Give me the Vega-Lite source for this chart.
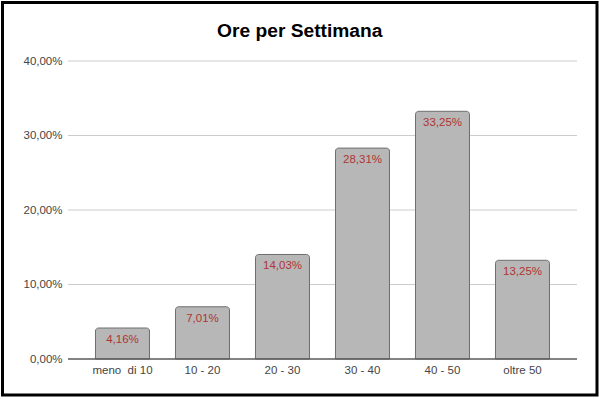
{
  "$schema": "https://vega.github.io/schema/vega-lite/v6.json",
  "width": 594.5,
  "height": 392.5,
  "autosize": {"type": "none"},
  "padding": {"left": 2.5, "top": 2.5, "right": 2, "bottom": 4},
  "background": "white",
  "config": {
    "locale": {"number": {"decimal": ",", "thousands": ".", "grouping": [3], "currency": ["€", ""]}},
    "view": {"stroke": "black", "strokeWidth": 3},
    "font": "Liberation Sans"
  },
  "title": {
    "text": "Ore per Settimana",
    "font": "Liberation Sans",
    "fontSize": 19.2,
    "fontWeight": "bold",
    "color": "#000000",
    "anchor": "middle",
    "offset": -39
  },
  "datasets": {
    "bars": [
      {"fascia": "meno  di 10", "quota": 0.0416},
      {"fascia": "10 - 20", "quota": 0.0701},
      {"fascia": "20 - 30", "quota": 0.1403},
      {"fascia": "30 - 40", "quota": 0.2831},
      {"fascia": "40 - 50", "quota": 0.3325},
      {"fascia": "oltre 50", "quota": 0.1325}
    ],
    "grid": [
      {"livello": 0.1},
      {"livello": 0.2},
      {"livello": 0.3},
      {"livello": 0.4}
    ],
    "base": [
      {"livello": 0}
    ]
  },
  "encoding": {
    "x": {
      "field": "fascia",
      "type": "nominal",
      "sort": null,
      "scale": {
        "domain": ["meno  di 10", "10 - 20", "20 - 30", "30 - 40", "40 - 50", "oltre 50"],
        "paddingInner": 0.325,
        "paddingOuter": 0.878125,
        "align": 0.6619
      },
      "axis": {
        "title": null,
        "orient": "bottom",
        "offset": -36,
        "domain": false,
        "ticks": false,
        "labelAngle": 0,
        "labelPadding": 5,
        "labelFont": "Liberation Sans",
        "labelFontSize": 11.5,
        "labelColor": "#444444",
        "labelExpr": "datum.value == 'meno  di 10' ? 'meno\u00a0 di 10' : datum.label"
      }
    },
    "y": {
      "type": "quantitative",
      "scale": {"domain": [-0.04832, 0.47853], "nice": false, "zero": false},
      "axis": {
        "title": null,
        "orient": "left",
        "offset": -65.5,
        "values": [0, 0.1, 0.2, 0.3, 0.4],
        "format": ".2%",
        "domain": false,
        "ticks": false,
        "grid": false,
        "labelPadding": 6,
        "labelFont": "Liberation Sans",
        "labelFontSize": 11.5,
        "labelColor": "#444444"
      }
    }
  },
  "layer": [
    {
      "data": {"name": "grid"},
      "mark": {"type": "rule", "color": "#cccccc", "strokeWidth": 1},
      "encoding": {
        "x": {"datum": "meno  di 10", "bandPosition": -0.5093},
        "x2": {"datum": "oltre 50", "bandPosition": 1.509},
        "y": {"field": "livello"}
      }
    },
    {
      "data": {"name": "bars"},
      "mark": {"type": "bar", "fill": "#b7b7b7", "stroke": "#6e6e6e", "strokeWidth": 1, "cornerRadiusTopLeft": 3, "cornerRadiusTopRight": 3},
      "encoding": {
        "y": {"field": "quota"},
        "y2": {"datum": 0}
      }
    },
    {
      "data": {"name": "base"},
      "mark": {"type": "rule", "color": "#5a5a5a", "strokeWidth": 1.3},
      "encoding": {
        "x": {"datum": "meno  di 10", "bandPosition": -0.5093},
        "x2": {"datum": "oltre 50", "bandPosition": 1.509},
        "y": {"field": "livello"}
      }
    },
    {
      "data": {"name": "bars"},
      "mark": {"type": "text", "color": "#b03434", "font": "Liberation Sans", "fontSize": 11.5, "baseline": "alphabetic", "dy": 15},
      "encoding": {
        "y": {"field": "quota"},
        "text": {"field": "quota", "format": ".2%"}
      }
    }
  ]
}
